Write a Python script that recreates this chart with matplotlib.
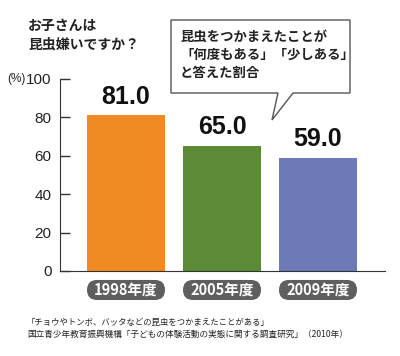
import matplotlib
matplotlib.use("Agg")
import matplotlib.pyplot as plt
from matplotlib.patches import FancyBboxPatch, Polygon
from matplotlib import font_manager

categories = ["1998年度", "2005年度", "2009年度"]
values = [81.0, 65.0, 59.0]
colors = ["#EF8B22", "#5B8C35", "#6E79B8"]
yticks = [0, 20, 40, 60, 80, 100]
title_lines = "お子さんは\n昆虫嫌いですか？"
callout = "昆虫をつかまえたことが\n「何度もある」「少しある」\nと答えた割合"
footer1 = "「チョウやトンボ、バッタなどの昆虫をつかまえたことがある」"
footer2 = "国立青少年教育振興機構「子どもの体験活動の実態に関する調査研究」（2010年）"

names = {f.name for f in font_manager.fontManager.ttflist}
narrow = "Liberation Sans Narrow" if "Liberation Sans Narrow" in names else "Liberation Sans"
JP = ["Noto Sans CJK JP", "DejaVu Sans"]

W, H = 400, 356
fig = plt.figure(figsize=(W / 100, H / 100), dpi=100)
fig.patch.set_facecolor("white")

def fx(px):
    return px / W

def fy(py):
    return 1 - py / H

ax = fig.add_axes([fx(60), fy(271), fx(385) - fx(60), fy(79) - fy(271)])
x = list(range(len(categories)))
ax.bar(x, values, width=0.81, color=colors, zorder=2)
ax.set_xlim(-0.6875, 2.698)
ax.set_ylim(0, 100)
ax.set_yticks(yticks)
ax.set_yticklabels([str(t) for t in yticks], family=narrow, fontsize=11, color="#222222")
ax.tick_params(axis="y", direction="in", length=7, width=1, color="#333333", pad=6)
ax.set_xticks([])
for s in ["top", "right"]:
    ax.spines[s].set_visible(False)
ax.spines["left"].set_color("#333333")
ax.spines["bottom"].set_color("#333333")
ax.set_facecolor("none")

for xi, v in zip(x, values):
    ax.annotate(f"{v:.1f}", (xi, v), xytext=(0, 5), textcoords="offset points",
                ha="center", va="bottom", fontsize=18, fontweight="bold",
                family=narrow, color="#111111")

fig.text(fx(7), fy(79), "(%)", ha="left", va="center", fontsize=8.5, color="#222222",
         family=narrow)

# pills
tr = ax.transData + fig.transFigure.inverted()
for xi, c in zip(x, categories):
    cx, _ = tr.transform((xi, 0))
    w, h = fx(78), 20 / H
    cy = fy(290)
    r = fx(10)
    p = FancyBboxPatch((cx - w / 2 + r, cy - h / 2 + 10 / H), w - 2 * r, 0.0001,
                       boxstyle=f"round,pad={r}", mutation_aspect=W / H,
                       transform=fig.transFigure, facecolor="#5F5F5F",
                       edgecolor="none")
    fig.patches.append(p)
    fig.text(cx, cy, c, ha="center", va="center", color="white", fontsize=10.5,
             fontweight="bold", family=JP)

fig.text(fx(28), fy(35), title_lines, ha="left", va="center", fontsize=10,
         fontweight="bold", family=JP, color="#222222", linespacing=1.45)

pts = [(171, 20), (350, 20), (350, 93), (293, 93), (272, 120), (278, 93), (171, 93)]
poly = Polygon([(fx(a), fy(b)) for a, b in pts], closed=True, transform=fig.transFigure,
               facecolor="white", edgecolor="#555555", linewidth=1, zorder=5)
fig.patches.append(poly)
fig.text(fx(180), fy(55), callout, ha="left", va="center", fontsize=9.6,
         fontweight="bold", family=JP, color="#222222", linespacing=1.35, zorder=6)

fig.text(fx(27), fy(322), footer1, ha="left", va="center", fontsize=6.0, family=JP,
         color="#222222")
fig.text(fx(27), fy(334), footer2, ha="left", va="center", fontsize=6.2, family=JP,
         color="#222222")

fig.savefig("out.png", dpi=100)
